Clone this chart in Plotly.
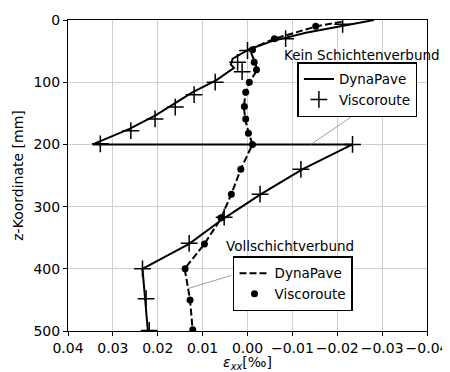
import plotly.graph_objects as go

# Kein Schichtenverbund - DynaPave (solid line)
kein_dyn_z = [0, 11, 20.5, 34, 47, 62, 72, 77, 82, 97, 116, 153, 175, 200, 200, 240, 280, 320, 360, 400, 450, 500]
kein_dyn_x = [-0.0282, -0.0204, -0.0130, -0.0055, -0.0004, 0.0033, 0.0037, 0.0030, 0.0040, 0.0070, 0.0122,
              0.0204, 0.0263, 0.0345, -0.0234, -0.0122, -0.0030, 0.0055, 0.0130, 0.0234, 0.0228, 0.0222]

# Kein Schichtenverbund - Viscoroute (+ markers)
kein_vis_z = [7, 30, 49, 68, 83, 100, 120, 140, 159, 178, 199, 200, 240, 280, 317, 359, 400, 448, 499]
kein_vis_x = [-0.0212, -0.0085, 0.0000, 0.0022, 0.0012, 0.0072, 0.0119, 0.0161, 0.0206, 0.0260, 0.0328,
              -0.0234, -0.0119, -0.0028, 0.0052, 0.0130, 0.0234, 0.0226, 0.0219]

# Vollschichtverbund - DynaPave (dashed line)
voll_dyn_z = [3, 10, 30, 47, 65, 80, 100, 120, 140, 160, 180, 200, 240, 280, 320, 360, 400, 450, 500]
voll_dyn_x = [-0.0210, -0.0155, -0.0060, -0.0005, -0.0015, -0.0022, -0.0004, 0.0005, 0.0008, 0.0005,
              -0.0002, -0.0011, 0.0015, 0.0036, 0.0060, 0.0096, 0.0140, 0.0128, 0.0122]

# Vollschichtverbund - Viscoroute (dots)
voll_vis_z = [10, 30, 48, 68, 80, 100, 116, 139, 159, 182, 200, 240, 280, 318, 360, 400, 450, 498]
voll_vis_x = [-0.0152, -0.0060, -0.0011, -0.0015, -0.0020, -0.0004, 0.0004, 0.0007, 0.0004, -0.0002,
              -0.0011, 0.0015, 0.0036, 0.0059, 0.0096, 0.0139, 0.0128, 0.0122]

x_ticks = [0.04, 0.03, 0.02, 0.01, 0.0, -0.01, -0.02, -0.03, -0.04]
x_tick_labels = ["0.04", "0.03", "0.02", "0.01", "0.00", "\u22120.01", "\u22120.02", "\u22120.03", "\u22120.04"]
y_ticks = [0, 100, 200, 300, 400, 500]

FONT = "DejaVu Sans"
FS = 14
LFS = 13.5

fig = go.Figure()
fig.add_trace(go.Scatter(x=kein_dyn_x, y=kein_dyn_z, mode="lines", name="DynaPave",
                         line=dict(color="black", width=2), legend="legend"))
fig.add_trace(go.Scatter(x=kein_vis_x, y=kein_vis_z, mode="markers", name="Viscoroute",
                         marker=dict(symbol="cross-thin", size=12, line=dict(color="black", width=1.5), color="black"),
                         legend="legend"))
fig.add_trace(go.Scatter(x=voll_dyn_x, y=voll_dyn_z, mode="lines", name="DynaPave",
                         line=dict(color="black", width=2, dash="7px,3px"), legend="legend2"))
fig.add_trace(go.Scatter(x=voll_vis_x, y=voll_vis_z, mode="markers", name="Viscoroute",
                         marker=dict(symbol="circle", size=7, color="black"), legend="legend2"))

axis_common = dict(showline=True, linecolor="black", linewidth=1, mirror=True,
                   ticks="outside", ticklen=4, tickcolor="black", automargin=False,
                   showgrid=True, gridcolor="#cfcfcf", gridwidth=1, zeroline=False, tickangle=0,
                   tickfont=dict(family=FONT, size=FS, color="black"))

fig.update_xaxes(range=[0.04, -0.04], tickvals=x_ticks, ticktext=x_tick_labels,
                 title=dict(text="<i>\u03b5</i><sub><i>xx</i></sub>[\u2030]",
                            font=dict(family=FONT, size=FS, color="black"), standoff=0),
                 **axis_common)
fig.update_yaxes(range=[500, 0], tickvals=y_ticks,
                 title=dict(text="z-Koordinate [mm]", font=dict(family=FONT, size=FS, color="black"), standoff=6),
                 **axis_common)

legend_common = dict(bgcolor="white", bordercolor="black", borderwidth=1.5,
                     font=dict(family=FONT, size=LFS, color="black"),
                     xanchor="left", yanchor="top", itemwidth=30, tracegroupgap=0)
# page body adds an 8px offset; figure is sized to fill the remaining window
fig.update_layout(
    template="none",
    width=442, height=364,
    margin=dict(l=60, r=23, t=12, b=41, autoexpand=False),
    plot_bgcolor="white", paper_bgcolor="white",
    font=dict(family=FONT, size=FS, color="black"),
    legend=dict(x=0.639, y=0.8645, **legend_common),
    legend2=dict(x=0.4596, y=0.240, **legend_common),
    showlegend=True,
)

fig.add_annotation(text="Kein Schichtenverbund", xref="paper", yref="paper", x=0.818, y=0.886,
                   xanchor="center", yanchor="middle",
                   showarrow=False, font=dict(family=FONT, size=LFS, color="black"))
fig.add_annotation(text="Vollschichtverbund", xref="paper", yref="paper", x=0.6175, y=0.2725,
                   xanchor="center", yanchor="middle",
                   showarrow=False, font=dict(family=FONT, size=LFS, color="black"))

# leader lines
fig.add_shape(type="line", xref="x", yref="y", x0=-0.02414, y0=150.8, x1=-0.01412, y1=200,
              line=dict(color="#888888", width=0.8), layer="above")
fig.add_shape(type="line", xref="x", yref="y", x0=0.0037, y0=410.8, x1=0.01336, y1=432,
              line=dict(color="#888888", width=0.8), layer="above")

fig.write_html("out.html")
